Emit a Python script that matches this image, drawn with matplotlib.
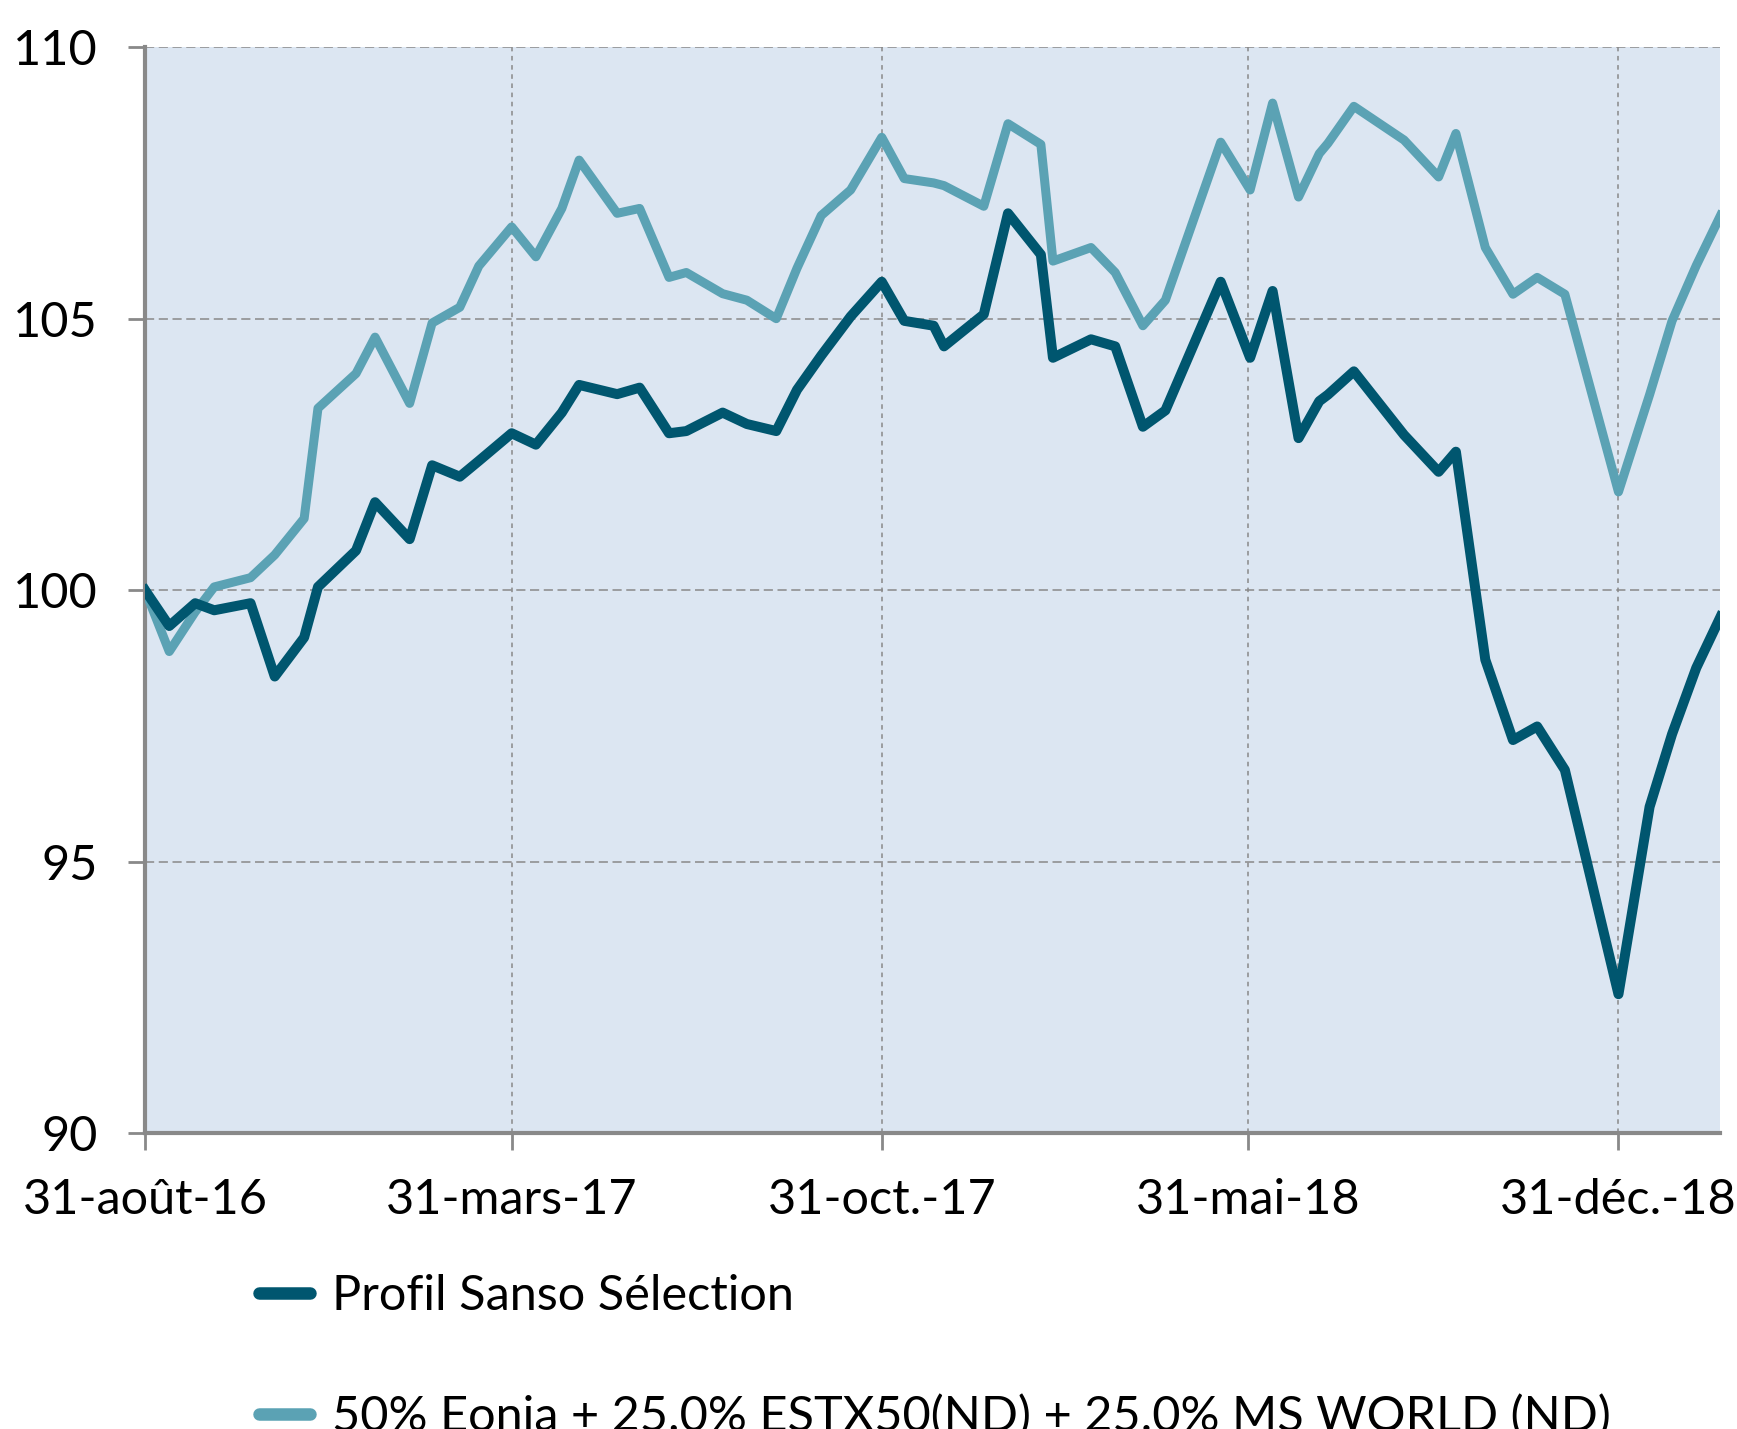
import pandas as pd
import matplotlib
matplotlib.use('Agg')
import matplotlib.pyplot as plt
from matplotlib.lines import Line2D

plt.rcParams['font.family'] = ['Lato', 'DejaVu Sans']

dates = ['2016-08-31', '2016-09-14', '2016-09-29', '2016-10-10', '2016-10-31', '2016-11-14',
         '2016-12-01', '2016-12-09', '2016-12-31', '2017-01-11', '2017-01-31', '2017-02-13',
         '2017-03-01', '2017-03-12', '2017-03-31', '2017-04-14', '2017-04-29', '2017-05-09',
         '2017-05-31', '2017-06-13', '2017-06-30', '2017-07-10', '2017-07-31', '2017-08-14',
         '2017-08-31', '2017-09-12', '2017-09-26', '2017-10-13', '2017-10-31', '2017-11-13',
         '2017-11-30', '2017-12-06', '2017-12-29', '2018-01-12', '2018-01-31', '2018-02-07',
         '2018-03-01', '2018-03-15', '2018-03-31', '2018-04-13', '2018-05-15', '2018-06-01',
         '2018-06-14', '2018-06-29', '2018-07-11', '2018-07-16', '2018-07-31', '2018-08-29',
         '2018-09-18', '2018-09-28', '2018-10-15', '2018-10-31', '2018-11-14', '2018-11-30',
         '2018-12-31', '2019-01-18', '2019-01-31', '2019-02-14', '2019-02-28']

profil = [100.0, 99.34, 99.76, 99.63, 99.76, 98.41, 99.13, 100.06, 100.73, 101.62,
          100.94, 102.30, 102.09, 102.38, 102.89, 102.68, 103.27, 103.78, 103.61, 103.73,
          102.89, 102.93, 103.27, 103.06, 102.93, 103.69, 104.32, 105.04, 105.68, 104.96,
          104.87, 104.49, 105.08, 106.94, 106.18, 104.28, 104.62, 104.49, 103.01, 103.31,
          105.68, 104.28, 105.51, 102.80, 103.48, 103.60, 104.03, 102.86, 102.18, 102.55,
          98.72, 97.24, 97.49, 96.69, 92.56, 96.01, 97.35, 98.57, 99.51]

benchmark = [100.0, 98.87, 99.60, 100.06, 100.23, 100.65, 101.32, 103.35, 103.99, 104.66,
             103.44, 104.92, 105.21, 105.97, 106.69, 106.14, 107.03, 107.92, 106.94, 107.03,
             105.76, 105.85, 105.46, 105.34, 105.00, 105.93, 106.90, 107.37, 108.34, 107.58,
             107.50, 107.45, 107.07, 108.59, 108.21, 106.06, 106.31, 105.85, 104.87, 105.34,
             108.25, 107.37, 108.97, 107.24, 108.04, 108.23, 108.91, 108.29, 107.61, 108.41,
             106.31, 105.45, 105.76, 105.45, 101.81, 103.60, 104.96, 105.98, 106.90]

labels = ['Profil Sanso Sélection',
          '50% Eonia + 25.0% ESTX50(ND) + 25.0% MS WORLD (ND)']

tick_dates = ['2016-08-31', '2017-03-31', '2017-10-31', '2018-05-31', '2018-12-31']
tick_labels = ['31-août-16', '31-mars-17', '31-oct.-17', '31-mai-18', '31-déc.-18']
y_ticks = [90, 95, 100, 105, 110]

dark = '#00566F'
light = '#5BA2B4'
grey = '#898989'

x = pd.to_datetime(dates)

fig = plt.figure(figsize=(17.37, 14.29), dpi=100)
ax = fig.add_axes([0.0835, 0.207, 0.907, 0.760])
ax.set_facecolor('#DCE6F2')

ax.plot(x, benchmark, color=light, lw=6.5, solid_joinstyle='round', zorder=3)
ax.plot(x, profil, color=dark, lw=7.2, solid_joinstyle='round', zorder=4)

ax.set_xlim(pd.Timestamp('2016-08-31'), pd.Timestamp('2019-02-28'))
ax.set_ylim(90, 110)
ax.set_yticks(y_ticks)
ax.set_xticks(pd.to_datetime(tick_dates))
ax.set_xticklabels(tick_labels)

ax.grid(axis='y', color=grey, ls=(0, (6, 3)), lw=1.1)
ax.grid(axis='x', color=grey, ls=(0, (3, 3)), lw=1.1)
ax.set_axisbelow(True)

for side in ['top', 'right']:
    ax.spines[side].set_visible(False)
for side in ['left', 'bottom']:
    ax.spines[side].set_color(grey)
    ax.spines[side].set_linewidth(3)

ax.tick_params(axis='both', direction='out', color=grey, width=2, length=12, labelsize=35)
ax.tick_params(axis='y', pad=22)
ax.tick_params(axis='x', pad=20)

handles = [Line2D([], [], color=dark, lw=9, solid_capstyle='round'),
           Line2D([], [], color=light, lw=9, solid_capstyle='round')]
fig.legend(handles, labels, loc='upper left', bbox_to_anchor=(0.149, 0.1085),
           frameon=False, fontsize=35, handlelength=1.06, handletextpad=0.44,
           labelspacing=1.56, borderpad=0, borderaxespad=0)

fig.savefig('out.png', dpi=100)
